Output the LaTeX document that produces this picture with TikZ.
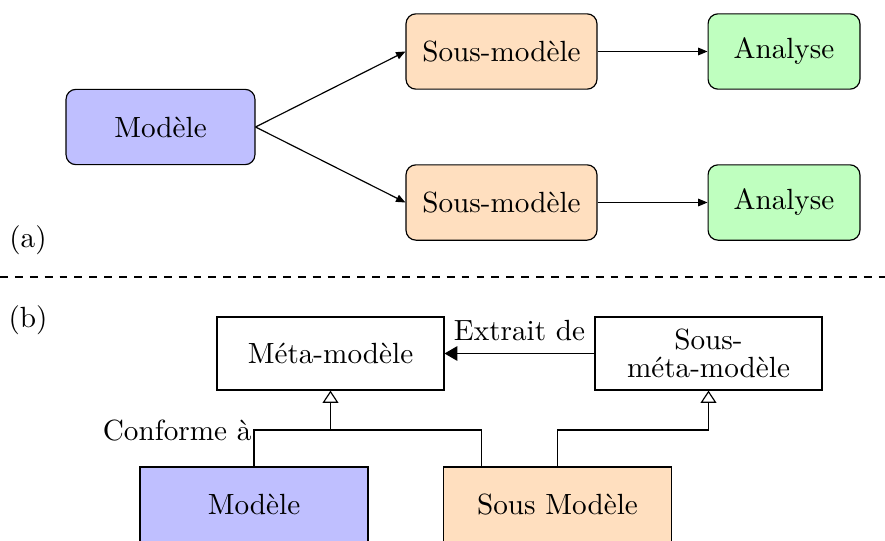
\documentclass[tikz,border=0pt]{standalone}
\usetikzlibrary{arrows.meta,calc,backgrounds}
\begin{document}
\begin{tikzpicture}[x=0.3425pt,y=-0.3425pt,
  line width=0.4pt,
  rbox/.style={draw,rounded corners=3.4pt,inner sep=0pt,minimum height=25.8pt},
  sbox/.style={draw,inner sep=0pt,minimum width=77.7pt,minimum height=25pt,align=center},
  arr/.style={-{Triangle[length=3.2pt,width=2.6pt]}},
  bigarr/.style={-{Triangle[length=4.4pt,width=5pt]}},
  uml/.style={-{Triangle[open,length=4.2pt,width=5.4pt]}},
  lbl/.style={inner sep=0pt}]
\useasboundingbox (0,0) rectangle (885,541);
% (a)
\node[rbox,fill=blue!25,minimum width=64.7pt] (m) at (160.5,127) {Modèle};
\node[rbox,fill=orange!25,minimum width=65.4pt] (s1) at (501.5,51.5) {Sous-modèle};
\node[rbox,fill=orange!25,minimum width=65.4pt] (s2) at (501.5,202.5) {Sous-modèle};
\node[rbox,fill=green!25,minimum width=52pt] (a1) at (784,51.5) {Analyse};
\node[rbox,fill=green!25,minimum width=52pt] (a2) at (784,202.5) {Analyse};
\draw[arr] (m.east) -- (s1.west);
\draw[arr] (m.east) -- (s2.west);
\draw[arr] (s1.east) -- (a1.west);
\draw[arr] (s2.east) -- (a2.west);
\node[lbl] (la) at (28,240) {(a)};
% separator
\coordinate (d1) at (0,277);
\coordinate (d2) at (885,277);
\draw[dash pattern=on 2.7pt off 2.4pt] (d1) -- (d2);
% (b)
\node[lbl] (lb) at (28,320) {(b)};
\node[sbox] (meta) at (330.5,353.5) {Méta-modèle};
\node[sbox] (smeta) at (708.5,353.5) {Sous-\\[-2.4pt]méta-modèle};
\node[sbox,draw=none,anchor=north] (mod) at (254,467) {Modèle};
\node[sbox,draw=none,anchor=north] (smod) at (557.5,467) {Sous Modèle};
\begin{scope}[on background layer]
\draw[fill=blue!25] (mod.north west) rectangle ($(mod.south east)+(0,15)$);
\draw[fill=orange!25] (smod.north west) rectangle ($(smod.south east)+(0,15)$);
\end{scope}
\draw[bigarr] (smeta.west) -- node[lbl,above=4pt] (ex) {Extrait de} (meta.east);
\coordinate (j) at (330.5,430);
\coordinate (k) at ($(smod.north west)+(38,0)$);
\draw (mod.north) |- (j) -| (k);
\draw[uml] (j) -- (meta.south);
\draw[uml] (smod.north) |- (708.5,430) -- (smeta.south);
\node[lbl,anchor=east] (cf) at (252,431) {Conforme à};
\end{tikzpicture}
\end{document}
